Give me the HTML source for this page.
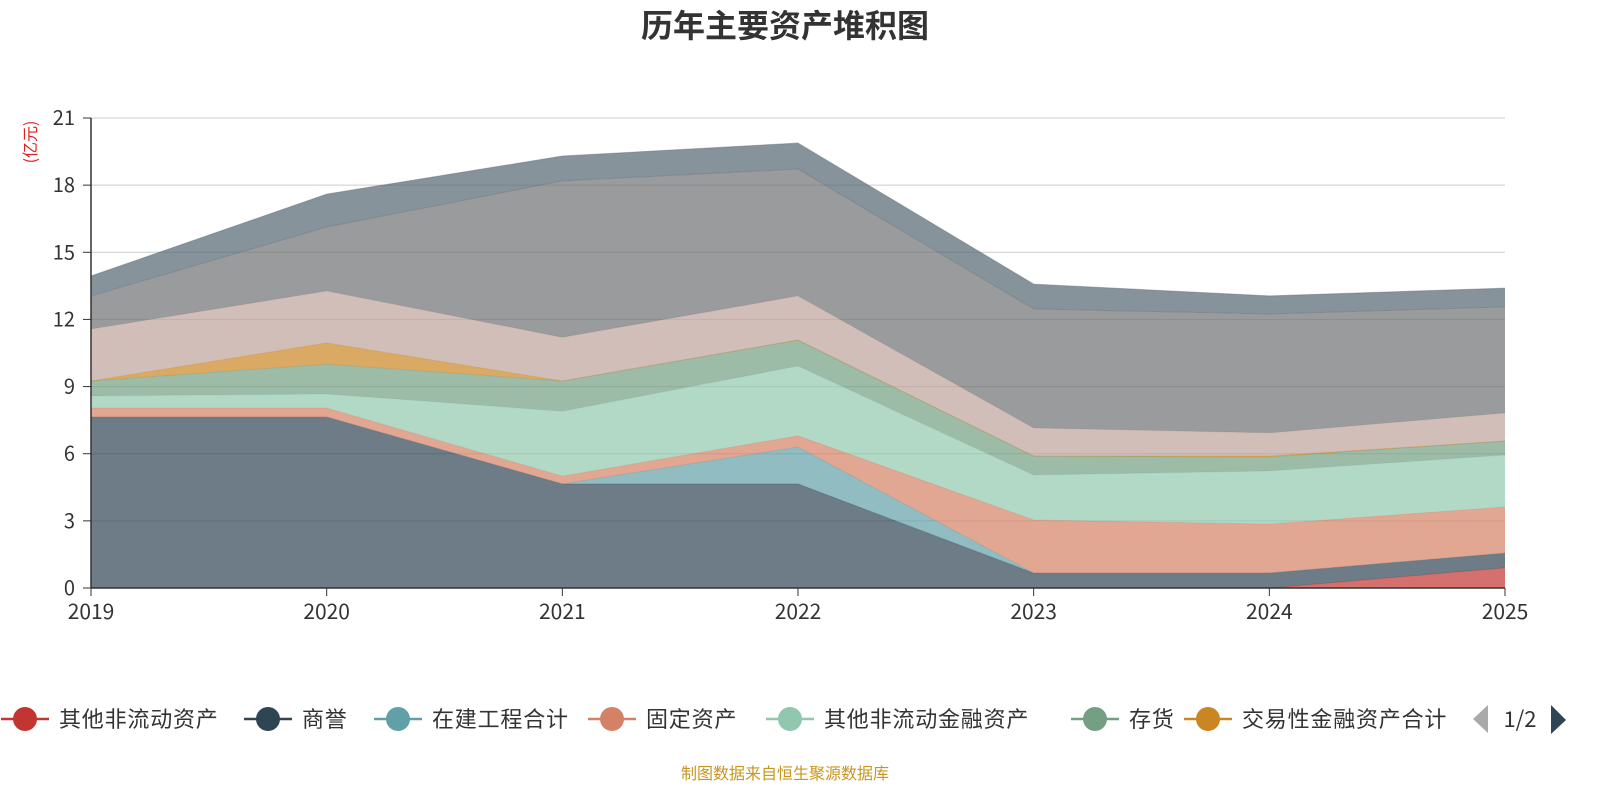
<!DOCTYPE html>
<html><head><meta charset="utf-8"><style>
body{margin:0;background:#fff;width:1600px;height:800px;overflow:hidden;font-family:"Liberation Sans","Noto Sans CJK SC",sans-serif}
</style></head><body>
<svg id="c" width="1600" height="800" font-family="Noto Sans CJK SC, Liberation Sans, sans-serif">
<text x="785" y="37" text-anchor="middle" font-size="32" font-weight="bold" fill="#333">历年主要资产堆积图</text>
<text transform="translate(36,142) rotate(-90)" text-anchor="middle" font-size="16" fill="#e02020">(亿元)</text>
<g id="grid"></g><g id="areas"></g><g id="axes"></g><g id="legend"></g>
<text x="785" y="779" text-anchor="middle" font-size="16" fill="#c8961e">制图数据来自恒生聚源数据库</text>
</svg>
<script>
const years=["2019","2020","2021","2022","2023","2024","2025"];
const yTicks=[0,3,6,9,12,15,18,21];
const names=["其他非流动资产","商誉","在建工程合计","固定资产","其他非流动金融资产","存货","交易性金融资产合计","其他1","其他2","其他3"];
const colors=["#c23531","#2f4554","#61a0a8","#d48265","#91c7ae","#749f83","#ca8622","#bda29a","#6e7074","#546570"];
const s0=[0,0,0,0,0,0,0.9];
const s1=[7.64,7.64,4.65,4.65,0.67,0.67,0.66];
const s2=[0,0,0,1.65,0,0,0];
const s3=[0.4,0.4,0.35,0.5,2.37,2.19,2.06];
const s4=[0.54,0.63,2.9,3.12,2.01,2.37,2.32];
const s5=[0.67,1.33,1.35,1.16,0.85,0.62,0.63];
const s6=[0,0.95,0,0,0,0.05,0];
const s7=[2.32,2.32,1.95,1.97,1.25,1.03,1.25];
const s8=[1.48,2.86,6.99,5.67,5.32,5.31,4.74];
const s9=[0.89,1.47,1.11,1.16,1.11,0.81,0.84];
const series=[s0,s1,s2,s3,s4,s5,s6,s7,s8,s9];
const NS="http://www.w3.org/2000/svg";
const X0=91,X1=1505,Y0=588,Y1=118,YMAX=21;
const xs=i=>X0+(X1-X0)*i/(years.length-1);
const ys=v=>Y0-(Y0-Y1)*v/YMAX;
function mk(t,a,p){const e=document.createElementNS(NS,t);for(const k in a)e.setAttribute(k,a[k]);p.appendChild(e);return e;}
const grid=document.getElementById('grid'),areas=document.getElementById('areas'),axes=document.getElementById('axes'),leg=document.getElementById('legend');
yTicks.forEach(t=>{
 if(t>0){const l=mk('line',{x1:X0,x2:X1,y1:ys(t),y2:ys(t),stroke:'#ccc','stroke-width':1},grid);
 
 }
 mk('line',{x1:X0-8,x2:X0,y1:ys(t),y2:ys(t),stroke:'#333'},axes);
 const tx=mk('text',{x:X0-16,y:ys(t)+7,'text-anchor':'end','font-size':20,fill:'#333'},axes);tx.textContent=t;
 
 
});
let base=years.map(()=>0);
series.forEach((s,k)=>{
 const top=base.map((b,i)=>b+s[i]);
 let d='M'+top.map((v,i)=>xs(i)+','+ys(v)).join(' L');
 for(let i=years.length-1;i>=0;i--)d+=' L'+xs(i)+','+ys(base[i]);
 d+='Z';
 const p=mk('path',{d:d,fill:colors[k],'fill-opacity':0.7},areas);
 
 
 const ln=mk('polyline',{points:top.map((v,i)=>xs(i)+','+ys(v)).join(' '),fill:'none',stroke:colors[k],'stroke-opacity':0.4,'stroke-width':1},areas);
 
 
 base=top;
});
mk('line',{x1:X0,x2:X0,y1:Y1,y2:Y0,stroke:'#333','stroke-width':1.5},axes);
mk('line',{x1:X0,x2:X1,y1:Y0,y2:Y0,stroke:'#333','stroke-width':1.5},axes);
years.forEach((y,i)=>{
 mk('line',{x1:xs(i),x2:xs(i),y1:Y0,y2:Y0+8,stroke:'#333'},axes);
 const t=mk('text',{x:xs(i),y:Y0+31,'text-anchor':'middle','font-size':21,fill:'#333'},axes);t.textContent=y;
 
 
});
const lx=[25,268,398,612,790,1095,1208];
for(let k=0;k<7;k++){
 const g=mk('g',{},leg);
 
 
 mk('line',{x1:lx[k]-24,x2:lx[k]+24,y1:719,y2:719,stroke:colors[k],'stroke-width':2.5},g);
 mk('circle',{cx:lx[k],cy:719,r:12,fill:colors[k]},g);
 const t=mk('text',{x:lx[k]+34,y:727,'font-size':22,'letter-spacing':0.8,fill:'#333'},g);t.textContent=names[k];
}
const pl=mk('path',{d:'M1488,705 L1488,733 L1473,719Z',fill:'#aaa'},leg);


const pt=mk('text',{x:1520,y:727,'text-anchor':'middle','font-size':22,fill:'#333'},leg);pt.textContent='1/2';


const pr=mk('path',{d:'M1551,705 L1551,734 L1566,720Z',fill:'#2f4554'},leg);


</script>
</body></html>
